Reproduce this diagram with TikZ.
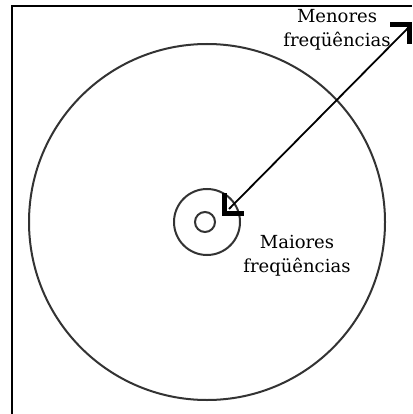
\documentclass[tikz,border=0pt]{standalone}
\usepackage{fontspec}
\setmainfont{DejaVu Serif}
\usetikzlibrary{calc}
\begin{document}
\begin{tikzpicture}[x=1pt,y=-1pt,
  ring/.style={draw=black!80,line width=2pt},
  lbl/.style={align=center,font=\fontsize{18}{24}\selectfont,inner sep=0pt},
  bracket/.style={line width=5pt,line cap=butt,line join=miter}]
\useasboundingbox (0,0) rectangle (412,414);
\fill[white] (0,0) rectangle (412,414);
% frame
\draw[line width=2.6pt] (12,414) -- (12,6) -- (412,6);
% circles
\coordinate (c) at (207,222);
\node[ring,circle,minimum size=356pt,inner sep=0pt] (big) at (c) {};
\node[ring,circle,minimum size=66pt,inner sep=0pt] (mid) at (c) {};
\node[ring,circle,minimum size=20pt,inner sep=0pt] (small) at (205,222) {};
% arrow
\coordinate (a1) at (229,209);
\coordinate (a2) at (408,28);
\draw[line width=1.8pt] (a1) -- (a2);
\draw[bracket] ($(a1)+(-5,-16)$) -- ($(a1)+(-5,4)$) -- ($(a1)+(15,4)$);
\draw[bracket] ($(a2)+(-18,-3)$) -- ($(a2)+(1,-3)$) -- ($(a2)+(1,16)$);
% labels
\node[lbl] (lo) at (337,30) {Menores\\freqüências};
\node[lbl] (hi) at (297,256) {Maiores\\freqüências};
\end{tikzpicture}
\end{document}
